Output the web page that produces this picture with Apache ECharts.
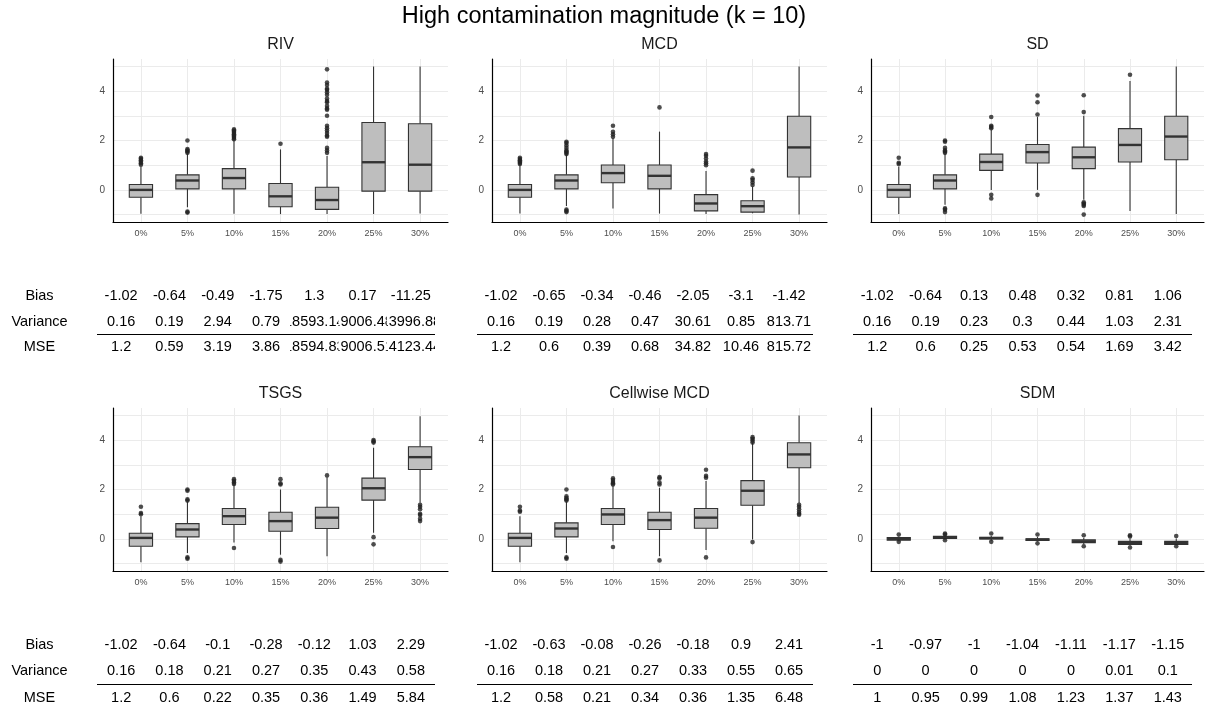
<!DOCTYPE html>
<html><head><meta charset="utf-8">
<script src="https://cdn.jsdelivr.net/npm/echarts@6/dist/echarts.min.js"></script>
<style>html,body{margin:0;padding:0;background:#fff}#c{width:1208px;height:711px}</style>
</head><body><div id="c"></div><script>
// ---------- data ----------
const mainTitle = 'High contamination magnitude (k = 10)';
const categories = ['0%', '5%', '10%', '15%', '20%', '25%', '30%'];
const panelNames = ['RIV', 'MCD', 'SD', 'TSGS', 'Cellwise MCD', 'SDM'];
const rowNames = ['MSE', 'Variance', 'Bias']; // bottom -> top
const yLabelValues = [0, 2, 4];
const yGridValues = [-1, 0, 1, 2, 3, 4, 5];

// boxes: [lower whisker, Q1, median, Q3, upper whisker]
const rivBoxes = [[-0.97,-0.30,0.00,0.22,0.95],[-0.70,0.04,0.38,0.61,1.45],[-0.97,0.04,0.48,0.86,2.02],[-0.98,-0.68,-0.26,0.26,1.64],[-0.98,-0.79,-0.41,0.11,1.37],[-0.98,-0.05,1.12,2.73,5.00],[-0.96,-0.05,1.02,2.68,5.00]];
const rivOutliers = [[1.02,1.08,1.14,1.2,1.26,1.3],[-0.88,-0.92,1.5,1.55,1.6,1.65,2.0],[2.05,2.1,2.15,2.2,2.25,2.3,2.35,2.4,2.45],[1.87],[1.5,1.6,1.7,2.15,2.2,2.3,2.4,2.5,2.6,3.0,3.25,3.3,3.4,3.55,3.6,3.7,3.85,3.95,4.05,4.1,4.25,4.35,4.88],[],[]];
const mcdBoxes = [[-0.96,-0.30,0.00,0.22,1.00],[-0.65,0.04,0.38,0.61,1.42],[-0.75,0.29,0.68,1.01,2.10],[-0.96,0.04,0.57,1.01,2.36],[-0.98,-0.85,-0.55,-0.19,0.76],[-0.95,-0.90,-0.66,-0.44,0.14],[-1.00,0.52,1.72,2.98,5.00]];
const mcdOutliers = [[1.05,1.1,1.15,1.2,1.25,1.3],[-0.8,-0.85,-0.9,1.45,1.5,1.55,1.6,1.7,1.8,1.9,1.95],[2.15,2.25,2.35,2.6],[3.34],[1.0,1.08,1.15,1.27,1.38,1.45],[0.2,0.3,0.4,0.47,0.78],[]];
const sdBoxes = [[-0.98,-0.30,0.00,0.22,0.95],[-0.60,0.04,0.38,0.61,1.45],[0.00,0.79,1.13,1.45,2.45],[0.00,1.09,1.53,1.84,2.95],[-0.40,0.86,1.32,1.73,3.00],[-0.85,1.13,1.82,2.48,4.41],[-0.98,1.22,2.16,2.98,5.00]];
const sdOutliers = [[1.05,1.1,1.3],[-0.75,-0.8,-0.9,1.5,1.55,1.6,1.7,1.95,2.0],[-0.2,-0.35,2.5,2.55,2.6,2.95],[-0.2,3.05,3.55,3.82],[-0.5,-0.55,-0.6,-0.65,-1.0,3.15,3.83],[4.66],[]];
const tsgsBoxes = [[-0.95,-0.30,0.04,0.23,0.92],[-0.57,0.08,0.38,0.62,1.50],[-0.15,0.58,0.92,1.23,2.18],[-0.64,0.31,0.72,1.08,2.00],[-0.70,0.42,0.86,1.28,2.50],[0.25,1.57,2.05,2.46,3.69],[1.46,2.81,3.31,3.73,4.97]];
const tsgsOutliers = [[1.0,1.05,1.3],[-0.75,-0.8,1.55,1.6,1.95,2.0],[-0.37,2.22,2.28,2.35,2.42],[-0.85,-0.92,2.2,2.25,2.42],[2.57],[0.07,-0.22,3.9,3.95,4.0],[0.72,0.82,0.97,1.02,1.2,1.3,1.38]];
const cmcdBoxes = [[-0.95,-0.30,0.04,0.23,0.92],[-0.57,0.08,0.42,0.65,1.50],[-0.10,0.58,0.99,1.23,2.14],[-0.70,0.38,0.76,1.08,2.07],[-0.45,0.43,0.86,1.23,2.34],[-0.02,1.36,1.95,2.36,3.89],[1.45,2.88,3.42,3.89,5.00]];
const cmcdOutliers = [[1.1,1.15,1.3],[-0.75,-0.8,1.55,1.6,1.65,1.72,2.0],[-0.33,2.2,2.25,2.3,2.38,2.45],[-0.87,2.2,2.28,2.45,2.5],[-0.75,2.48,2.55,2.8],[-0.13,3.9,3.98,4.05,4.12],[0.98,1.03,1.1,1.2,1.3,1.38]];
const sdmBoxes = [[-0.10,-0.05,0.00,0.05,0.10],[-0.03,0.02,0.05,0.10,0.15],[-0.08,0.00,0.03,0.06,0.12],[-0.10,-0.06,-0.03,0.00,0.08],[-0.22,-0.15,-0.10,-0.04,0.05],[-0.28,-0.22,-0.16,-0.10,0.02],[-0.25,-0.22,-0.16,-0.10,0.02]];
const sdmOutliers = [[0.18,-0.12],[0.18,0.22,-0.05],[0.22,-0.12],[0.18,-0.18],[0.15,-0.3],[0.1,0.15,-0.35],[0.12,-0.3]];

// tables
const rivBias = [-1.02,-0.64,-0.49,-1.75,1.3,0.17,-11.25];
const rivVariance = [0.16,0.19,2.94,0.79,18593.14,19006.48,13996.88];
const rivMSE = [1.2,0.59,3.19,3.86,18594.83,19006.51,14123.44];
const mcdBias = [-1.02,-0.65,-0.34,-0.46,-2.05,-3.1,-1.42];
const mcdVariance = [0.16,0.19,0.28,0.47,30.61,0.85,813.71];
const mcdMSE = [1.2,0.6,0.39,0.68,34.82,10.46,815.72];
const sdBias = [-1.02,-0.64,0.13,0.48,0.32,0.81,1.06];
const sdVariance = [0.16,0.19,0.23,0.3,0.44,1.03,2.31];
const sdMSE = [1.2,0.6,0.25,0.53,0.54,1.69,3.42];
const tsgsBias = [-1.02,-0.64,-0.1,-0.28,-0.12,1.03,2.29];
const tsgsVariance = [0.16,0.18,0.21,0.27,0.35,0.43,0.58];
const tsgsMSE = [1.2,0.6,0.22,0.35,0.36,1.49,5.84];
const cmcdBias = [-1.02,-0.63,-0.08,-0.26,-0.18,0.9,2.41];
const cmcdVariance = [0.16,0.18,0.21,0.27,0.33,0.55,0.65];
const cmcdMSE = [1.2,0.58,0.21,0.34,0.36,1.35,6.48];
const sdmBias = [-1,-0.97,-1,-1.04,-1.11,-1.17,-1.15];
const sdmVariance = [0,0,0,0,0,0.01,0.1];
const sdmMSE = [1,0.95,0.99,1.08,1.23,1.37,1.43];

// ---------- layout / style ----------
const FONT = '"Liberation Sans", Arial, Helvetica, sans-serif';
const TABLE_FONT_SIZE = 14.5;
const panels = [
  {boxes: rivBoxes, outliers: rivOutliers, bias: rivBias, variance: rivVariance, mse: rivMSE},
  {boxes: mcdBoxes, outliers: mcdOutliers, bias: mcdBias, variance: mcdVariance, mse: mcdMSE},
  {boxes: sdBoxes, outliers: sdOutliers, bias: sdBias, variance: sdVariance, mse: sdMSE},
  {boxes: tsgsBoxes, outliers: tsgsOutliers, bias: tsgsBias, variance: tsgsVariance, mse: tsgsMSE},
  {boxes: cmcdBoxes, outliers: cmcdOutliers, bias: cmcdBias, variance: cmcdVariance, mse: cmcdMSE},
  {boxes: sdmBoxes, outliers: sdmOutliers, bias: sdmBias, variance: sdmVariance, mse: sdmMSE}
];
const plotLeft = [113, 492, 871], plotWidth = [335, 335, 333];
const plotTop = [59, 408], plotHeight = 163;
const tableLeft = [97, 477, 853], tableWidth = [338, 336, 339];
const tableTop = [283.25, 631.75], tableHeight = [76.5, 79.5];
const titleTop = [36.5, 385.5];
const BOX_W = 0.5;
const STROKE = '#333333';

function renderBox(params, api) {
  const x = api.value(0);
  const pLow = api.coord([x, api.value(1)]);
  const pQ1 = api.coord([x, api.value(2)]);
  const pMed = api.coord([x, api.value(3)]);
  const pQ3 = api.coord([x, api.value(4)]);
  const pHigh = api.coord([x, api.value(5)]);
  const w = api.size([BOX_W, 0])[0];
  return {type: 'group', children: [
    {type: 'line', shape: {x1: pLow[0], y1: pLow[1], x2: pQ1[0], y2: pQ1[1]}, style: {stroke: STROKE, lineWidth: 1.1}},
    {type: 'line', shape: {x1: pQ3[0], y1: pQ3[1], x2: pHigh[0], y2: pHigh[1]}, style: {stroke: STROKE, lineWidth: 1.1}},
    {type: 'rect', shape: {x: pQ3[0] - w / 2, y: pQ3[1], width: w, height: Math.max(pQ1[1] - pQ3[1], 0.5)}, style: {fill: '#bebebe', stroke: STROKE, lineWidth: 1.1}},
    {type: 'line', shape: {x1: pMed[0] - w / 2, y1: pMed[1], x2: pMed[0] + w / 2, y2: pMed[1]}, style: {stroke: STROKE, lineWidth: 2.4}}
  ]};
}

// table cell: text centred in its cell and clipped to the cell, like a grid table
function renderCell(params, api) {
  const c = api.coord([api.value(0), api.value(1)]);
  const sz = api.size([1, 1]);
  const w = sz[0], h = sz[1];
  return {type: 'text', x: c[0], y: c[1],
    style: {text: String(api.value(2)), fill: '#000', font: TABLE_FONT_SIZE + 'px ' + FONT,
      align: 'center', verticalAlign: 'middle'},
    clipPath: {type: 'rect', shape: {x: -w / 2, y: -h / 2, width: w, height: h}}};
}

const grids = [], xAxes = [], yAxes = [], series = [];
const titles = [{text: mainTitle, left: 'center', top: 5, padding: 0,
  textStyle: {fontFamily: FONT, fontSize: 23.5, fontWeight: 'normal', color: '#000'}}];

panels.forEach((p, i) => {
  const col = i % 3, row = Math.floor(i / 3);
  const gp = grids.length;
  grids.push({left: plotLeft[col], top: plotTop[row], width: plotWidth[col], height: plotHeight});
  const gt = grids.length;
  grids.push({left: tableLeft[col], top: tableTop[row], width: tableWidth[col], height: tableHeight[row]});

  titles.push({text: panelNames[i], left: plotLeft[col] + plotWidth[col] / 2, top: titleTop[row], padding: 0,
    textAlign: 'center', textStyle: {fontFamily: FONT, fontSize: 16, fontWeight: 'normal', color: '#1a1a1a'}});

  xAxes.push({gridIndex: gp, type: 'value', min: -0.6, max: 6.6,
    axisLine: {show: true, onZero: false, lineStyle: {color: '#000', width: 1.2}},
    axisTick: {show: false, customValues: [0, 1, 2, 3, 4, 5, 6]},
    axisLabel: {customValues: [0, 1, 2, 3, 4, 5, 6], formatter: v => categories[Math.round(v)] || '',
      fontFamily: FONT, fontSize: 9, color: '#4d4d4d', margin: 7},
    splitLine: {show: true, lineStyle: {color: '#ebebeb', width: 1}}});
  yAxes.push({gridIndex: gp, type: 'value', min: -1.3, max: 5.3,
    axisLine: {show: true, onZero: false, lineStyle: {color: '#000', width: 1.2}},
    axisTick: {show: false, customValues: yGridValues},
    axisLabel: {customValues: yLabelValues, fontFamily: FONT, fontSize: 10, color: '#4d4d4d', margin: 8},
    splitLine: {show: true, lineStyle: {color: '#ebebeb', width: 1}}});

  const xt = xAxes.length;
  xAxes.push({gridIndex: gt, type: 'category', data: categories, show: false});
  const yt = yAxes.length;
  yAxes.push({gridIndex: gt, type: 'value', min: -0.5, max: 2.5, show: col === 0,
    axisLine: {show: false}, axisTick: {show: false}, splitLine: {show: false},
    axisLabel: {customValues: [0, 1, 2], formatter: v => rowNames[Math.round(v)] || '',
      align: 'center', margin: tableLeft[col] - 39.5, fontFamily: FONT, fontSize: TABLE_FONT_SIZE, color: '#000'}});

  series.push({type: 'custom', xAxisIndex: gp, yAxisIndex: gp, renderItem: renderBox,
    encode: {x: 0, y: [1, 2, 3, 4, 5]},
    data: p.boxes.map((b, k) => [k].concat(b)), silent: true, z: 2});

  const out = [];
  p.outliers.forEach((arr, k) => arr.forEach(v => out.push([k, v])));
  series.push({type: 'scatter', xAxisIndex: gp, yAxisIndex: gp, data: out, symbolSize: 4.6,
    itemStyle: {color: '#222'}, silent: true, z: 3});

  const cells = [];
  p.bias.forEach((v, k) => cells.push([k, 2, v]));
  p.variance.forEach((v, k) => cells.push([k, 1, v]));
  p.mse.forEach((v, k) => cells.push([k, 0, v]));
  series.push({type: 'custom', xAxisIndex: xt, yAxisIndex: yt, data: cells, renderItem: renderCell,
    encode: {x: 0, y: 1}, silent: true,
    markLine: {silent: true, symbol: 'none', label: {show: false},
      lineStyle: {color: '#000', width: 1.2, type: 'solid'}, data: [{yAxis: 0.5}]}});
});

const chart = echarts.init(document.getElementById('c'), null, {renderer: 'canvas'});
chart.setOption({animation: false, backgroundColor: '#fff', title: titles, grid: grids,
  xAxis: xAxes, yAxis: yAxes, series: series});
</script></body></html>
